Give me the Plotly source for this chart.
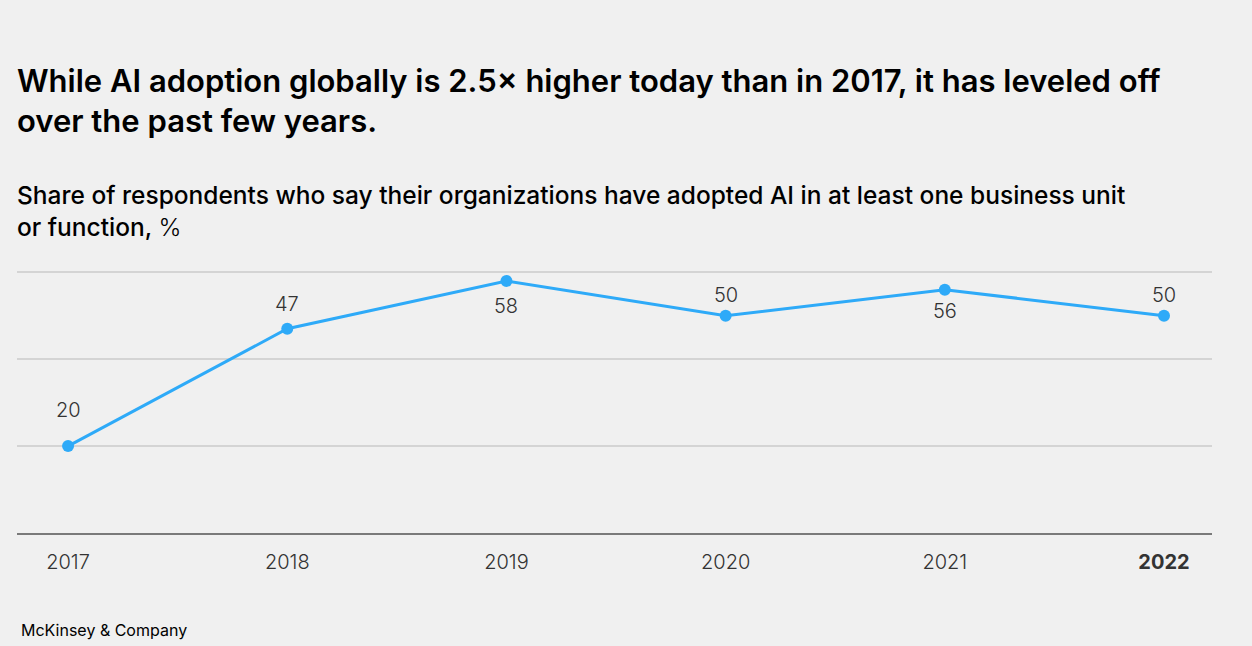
import plotly.graph_objects as go

years = [2017, 2018, 2019, 2020, 2021, 2022]
adoption = [20, 47, 58, 50, 56, 50]
label_shift = [36, 25, -25, 21, -21, 21]
tick_text = ["2017", "2018", "2019", "2020", "2021", "<b>2022</b>"]

title = "While AI adoption globally is 2.5× higher today than in 2017, it has leveled off<br>over the past few years."
subtitle = "Share of respondents who say their organizations have adopted AI in at least one business unit<br>or function, <span style='font-weight:300'>%</span>"

BG = "#f0f0f0"
LINE = "#2eaaf8"
FONT = "Inter"
W, H = 1252, 646
MT, MB = 271, 113

fig = go.Figure()
fig.add_trace(go.Scatter(
    x=years, y=adoption, mode="lines+markers",
    line=dict(color=LINE, width=3),
    marker=dict(color=LINE, size=12),
    hoverinfo="skip", cliponaxis=False,
))

for x, y, s in zip(years, adoption, label_shift):
    fig.add_annotation(x=x, y=y, text=str(y), showarrow=False, yshift=s,
                       font=dict(family=FONT, size=20, color="#333", weight=300))

fig.update_layout(
    width=W, height=H,
    paper_bgcolor=BG, plot_bgcolor=BG,
    margin=dict(l=17, r=40, t=MT, b=MB),
    showlegend=False,
    font=dict(family=FONT, color="#333"),
    xaxis=dict(range=[2016.767, 2022.219], tickvals=years, ticktext=tick_text,
               showgrid=False, zeroline=False, showline=True, linecolor="#7a7a7a", linewidth=2,
               ticks="outside", ticklen=10, tickcolor=BG,
               tickfont=dict(family=FONT, size=20, color="#333", weight=300)),
    yaxis=dict(range=[0, 60.3], tickvals=[20, 40, 60], showticklabels=False,
               showgrid=True, gridcolor="#d4d4d4", gridwidth=1.5, zeroline=False, showline=False,
               fixedrange=True),
)


def paper_y(py):
    return (H - MB - py) / (H - MT - MB)


fig.add_annotation(xref="paper", yref="paper", x=-0.002, xanchor="left", y=paper_y(60), yanchor="top",
                   text=title, showarrow=False, align="left",
                   font=dict(family=FONT, size=31, color="#000", weight=600))
fig.add_annotation(xref="paper", yref="paper", x=-0.002, xanchor="left", y=paper_y(178), yanchor="top",
                   text=subtitle, showarrow=False, align="left",
                   font=dict(family=FONT, size=24.5, color="#000", weight=500))
fig.add_annotation(xref="paper", yref="paper", x=0.002, xanchor="left", y=paper_y(618), yanchor="top",
                   text="McKinsey & Company", showarrow=False, align="left",
                   font=dict(family=FONT, size=16, color="#000"))

fig.write_html("out.html", config={"displayModeBar": False},
               post_script="document.body.style.margin='0';document.body.style.background='#f0f0f0';")
